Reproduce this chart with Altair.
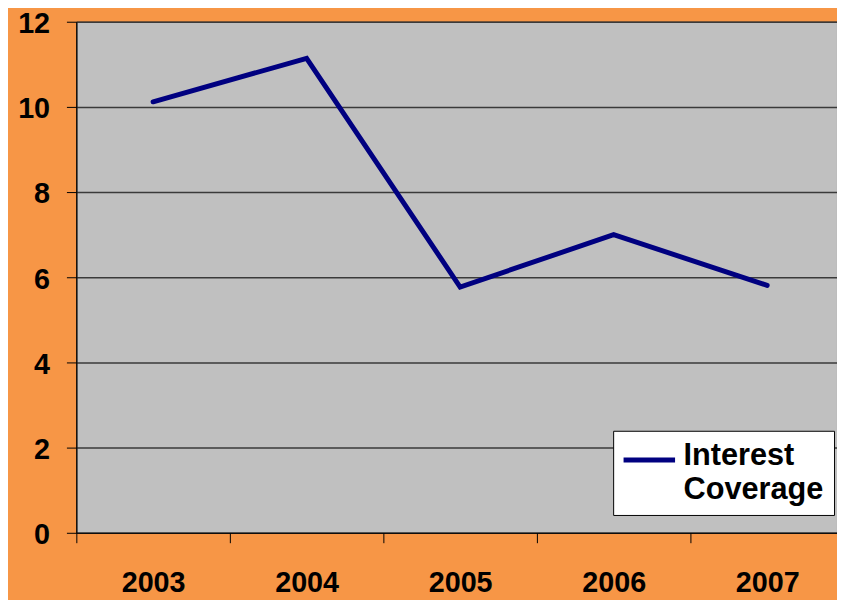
import altair as alt
import pandas as pd

years = ["2003", "2004", "2005", "2006", "2007"]
coverage = [10.12, 11.14, 5.77, 7.0, 5.81]
series = ["Interest Coverage"] * len(years)

df = pd.DataFrame({"year": years, "value": coverage, "series": series})

FONT = "Liberation Sans"

chart = (
    alt.Chart(df)
    .mark_line(strokeWidth=5, strokeCap="round", strokeJoin="miter")
    .encode(
        x=alt.X(
            "year:N",
            bandPosition=0.5,
            scale=alt.Scale(type="band", paddingInner=0, paddingOuter=0, range=[0, 775]),
            axis=alt.Axis(
                title=None,
                labelAngle=0,
                tickBand="extent",
                tickSize=10,
                tickColor="black",
                domainColor="black",
                labelPadding=26,
                labelBaseline="top",
                labelFont=FONT,
                labelFontSize=29,
                labelFontWeight="bold",
                labelColor="black",
                grid=False,
            ),
        ),
        y=alt.Y(
            "value:Q",
            scale=alt.Scale(domain=[0, 12], nice=False),
            axis=alt.Axis(
                title=None,
                values=[0, 2, 4, 6, 8, 10, 12],
                tickSize=10,
                tickColor="black",
                domainColor="black",
                labelPadding=17,
                labelOffset=2,
                labelFont=FONT,
                labelFontSize=29,
                labelFontWeight="bold",
                labelColor="black",
                grid=True,
                gridColor="#3a3a3a",
                gridWidth=1.5,
            ),
        ),
        color=alt.Color(
            "series:N",
            scale=alt.Scale(range=["#000080"]),
            legend=alt.Legend(
                title=None,
                orient="none",
                legendX=542,
                legendY=413,
                direction="vertical",
                fillColor="white",
                strokeColor="black",
                padding=10,
                symbolType="M-1.5,0.4H3.7",
                symbolStrokeWidth=5,
                symbolSize=400,
                symbolFillColor="transparent",
                labelExpr="split(datum.label, ' ')",
                labelFont=FONT,
                labelFontSize=31,
                labelFontWeight="bold",
                labelColor="black",
                labelOffset=30,
                labelLimit=300,
            ),
        ),
    )
    .properties(
        width=768,
        height=516,
        autosize=alt.AutoSizeParams(type="none"),
        padding={"left": 69, "top": 11, "right": 0, "bottom": 65},
    )
    .configure(background="#F79646", style={"guide-label": {"lineHeight": 34}})
    .configure_view(fill="#C0C0C0", stroke="black", strokeWidth=1)
)

chart.save("out.html", embed_options={"renderer": "svg", "actions": False})
